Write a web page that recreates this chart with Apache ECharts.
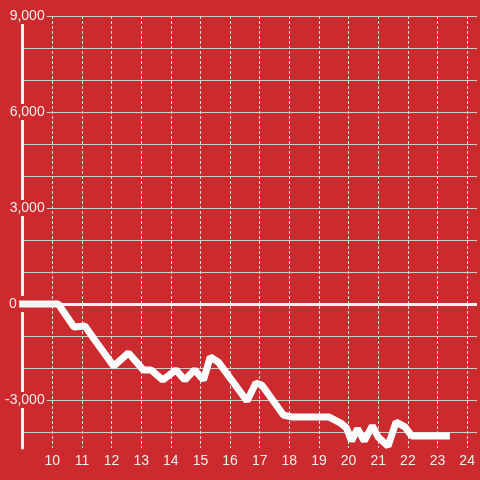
<!DOCTYPE html>
<html>
<head>
<meta charset="utf-8">
<script src="https://cdn.jsdelivr.net/npm/echarts@6/dist/echarts.min.js"></script>
<style>
html,body{margin:0;padding:0;background:#cb2a2e;}
#chart{width:480px;height:480px;}
</style>
</head>
<body>
<div id="chart"></div>
<script>
// Data
var hours = [9, 10.2, 10.73, 11.1, 11.45, 12.07, 12.57, 13.07, 13.33, 13.73, 14.17, 14.47, 14.8, 15.1, 15.33, 15.6, 16.57, 16.87, 17.07, 17.8, 18.07, 19.33, 19.73, 19.93, 20.1, 20.3, 20.53, 20.8, 21.0, 21.33, 21.6, 21.9, 22.13, 23.3];
var values = [0, 0, -720, -690, -1150, -1940, -1530, -2060, -2060, -2375, -2060, -2375, -2060, -2375, -1656, -1810, -3030, -2470, -2530, -3470, -3530, -3530, -3720, -3875, -4280, -3900, -4280, -3810, -4160, -4440, -3690, -3840, -4125, -4125];
var yTickLabels = [-3000, 0, 3000, 6000, 9000];
var xTickLabels = [10, 11, 12, 13, 14, 15, 16, 17, 18, 19, 20, 21, 22, 23, 24];

var RED = '#cb2a2e';
var FONT = 'Liberation Sans, Arial, sans-serif';
var points = hours.map(function (h, i) { return [h, values[i]]; });

function fmtNum(v) {
  return v.toString().replace(/\B(?=(\d{3})+(?!\d))/g, ',');
}

var chart = echarts.init(document.getElementById('chart'));
chart.setOption({
  animation: false,
  backgroundColor: RED,
  grid: { left: 20, right: 0, top: 16, bottom: 32 },
  xAxis: {
    type: 'value',
    min: 9,
    max: 24.333,
    interval: 1,
    axisLine: { show: false },
    axisTick: { show: false },
    axisLabel: {
      color: '#eeeeee',
      fontSize: 14,
      fontFamily: FONT,
      margin: 6,
      formatter: function (v) {
        return xTickLabels.indexOf(v) >= 0 ? String(v) : '';
      }
    },
    splitLine: {
      show: true,
      showMinLine: false,
      showMaxLine: false,
      lineStyle: { color: '#dddddd', width: 1, type: [3, 2] }
    }
  },
  yAxis: [
    {
      type: 'value',
      min: -4500,
      max: 9000,
      interval: 500,
      z: 0,
      axisLine: { show: false },
      axisTick: { show: false },
      axisLabel: { show: false },
      splitLine: {
        show: true,
        lineStyle: { color: ['rgba(0,0,0,0)', '#cccccc'], width: 1 }
      }
    },
    {
      type: 'value',
      min: -4500,
      max: 9000,
      interval: 500,
      position: 'left',
      z: 1,
      axisLine: { show: true, lineStyle: { color: '#f2f2f2', width: 3 } },
      axisTick: { show: false },
      splitLine: { show: false },
      axisLabel: {
        margin: -24,
        align: 'right',
        formatter: function (v) {
          if (yTickLabels.indexOf(v) < 0) return '';
          if (v === 0) return '{z|0}';
          return '{a|' + fmtNum(v) + '}';
        },
        rich: {
          a: {
            color: '#eeeeee', fontSize: 14, fontFamily: FONT,
            backgroundColor: RED, padding: [1, 2, 1, 2]
          },
          z: {
            color: '#eeeeee', fontSize: 14, fontFamily: FONT,
            backgroundColor: RED, padding: [1, 30, 1, 2]
          }
        }
      }
    }
  ],
  series: [
    {
      type: 'line',
      data: points,
      yAxisIndex: 0,
      showSymbol: false,
      symbol: 'none',
      lineStyle: { color: '#ffffff', width: 7, cap: 'square' },
      markLine: {
        silent: true,
        symbol: 'none',
        label: { show: false },
        lineStyle: { color: '#f2f2f2', width: 3, type: 'solid' },
        data: [{ yAxis: 0 }]
      }
    }
  ]
});
</script>
</body>
</html>
